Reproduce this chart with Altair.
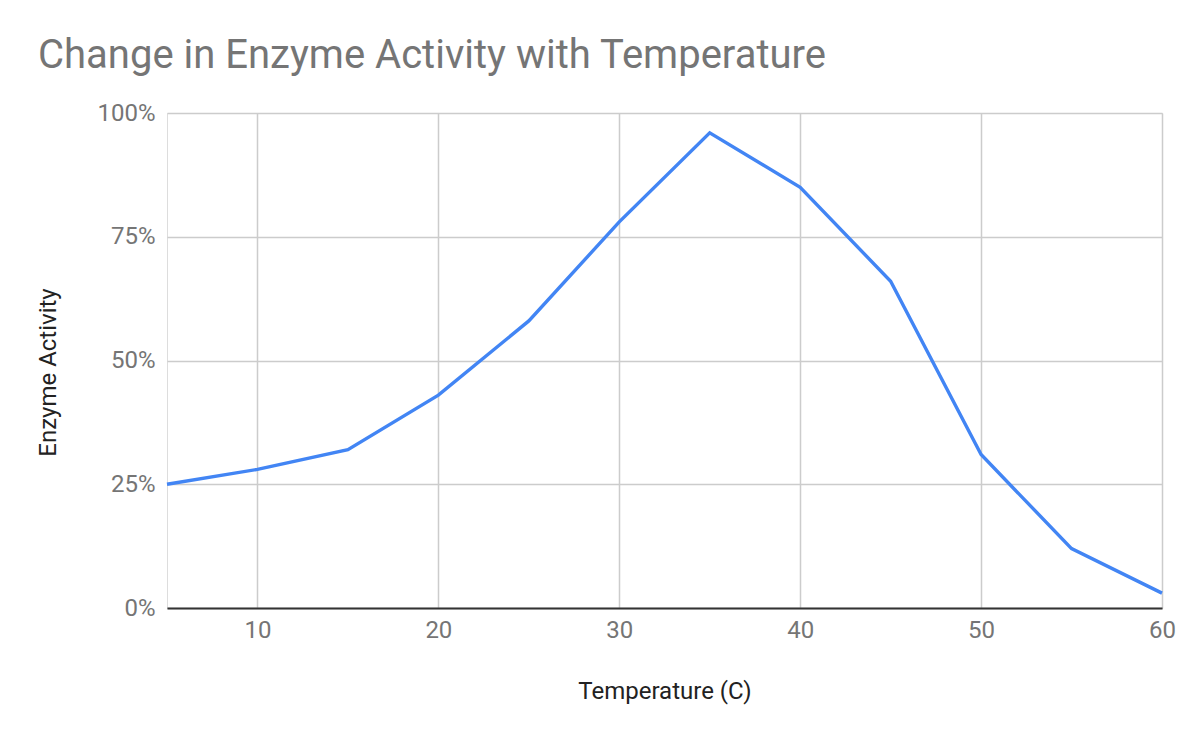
import altair as alt
import pandas as pd

temperature = [5, 10, 15, 20, 25, 30, 35, 40, 45, 50, 55, 60]
activity = [0.25, 0.28, 0.32, 0.43, 0.58, 0.78, 0.96, 0.85, 0.66, 0.31, 0.12, 0.03]
x_ticks = [10, 20, 30, 40, 50, 60]
y_ticks = [0, 0.25, 0.5, 0.75, 1.0]

df = pd.DataFrame({"Temperature": temperature, "Activity": activity})

FONT = "Roboto"

chart = alt.Chart(df).mark_line(color="#4285F4", strokeWidth=3.4).encode(
    x=alt.X(
        "Temperature:Q",
        scale=alt.Scale(domain=[5, 60], nice=False, zero=False),
        axis=alt.Axis(
            title="Temperature (C)",
            values=x_ticks,
            grid=True,
            gridColor="#cccccc",
            gridWidth=1.5,
            domain=True,
            domainColor="#333333",
            domainWidth=2,
            ticks=False,
            tickSize=0,
            labelPadding=10,
            labelFlush=False,
            labelFont=FONT,
            labelFontSize=24,
            labelColor="#757575",
            titleFont=FONT,
            titleFontSize=24,
            titleFontWeight="normal",
            titleColor="#222222",
            titleY=83,
            titleBaseline="middle",
        ),
    ),
    y=alt.Y(
        "Activity:Q",
        scale=alt.Scale(domain=[0, 1], nice=False),
        axis=alt.Axis(
            title="Enzyme Activity",
            values=y_ticks,
            format=".0%",
            grid=True,
            gridColor="#cccccc",
            gridWidth=1.5,
            domain=False,
            ticks=False,
            tickSize=0,
            labelPadding=12,
            labelFlush=False,
            labelFont=FONT,
            labelFontSize=24,
            labelColor="#757575",
            titleFont=FONT,
            titleFontSize=24,
            titleFontWeight="normal",
            titleColor="#222222",
            titleAngle=270,
            titleX=-119,
            titleY=259,
            titleAlign="center",
            titleBaseline="middle",
        ),
    ),
).properties(
    width=995,
    height=495,
    title=alt.TitleParams(
        text="Change in Enzyme Activity with Temperature",
        anchor="start",
        frame="group",
        font=FONT,
        fontSize=40,
        fontWeight="normal",
        color="#757575",
        baseline="alphabetic",
        offset=33,
        dx=-129,
        dy=40,
    ),
    autosize=alt.AutoSizeParams(type="none"),
    padding={"left": 159, "top": 105, "right": 30, "bottom": 120},
).configure_view(stroke=None).configure(background="white")

chart.save("out.html", embed_options={"renderer": "svg", "actions": False})
